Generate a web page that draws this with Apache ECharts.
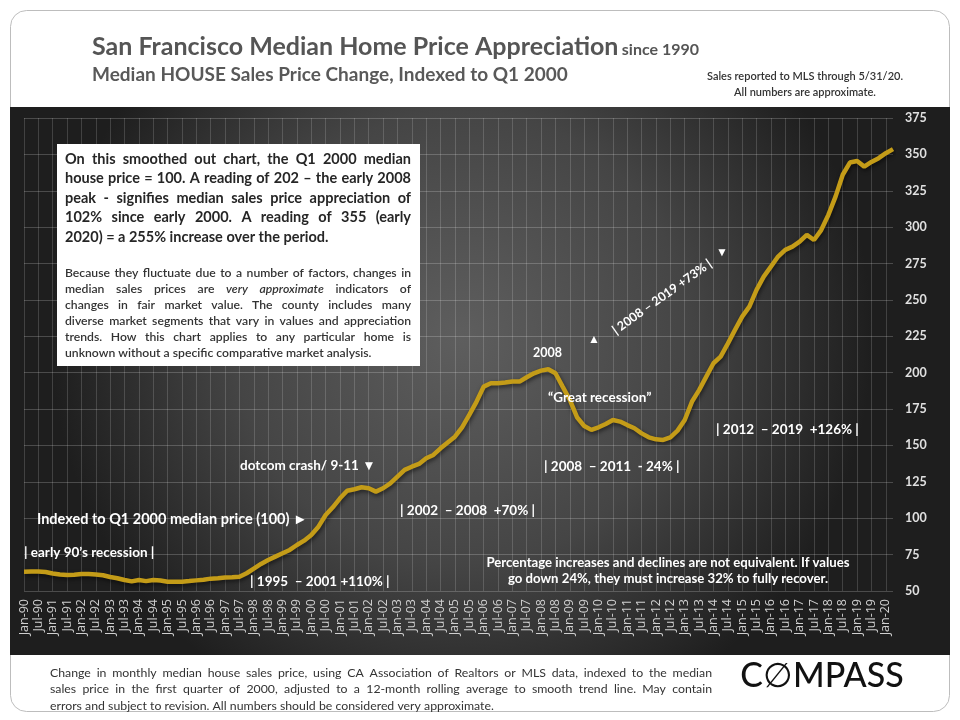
<!DOCTYPE html>
<html>
<head>
<meta charset="utf-8">
<script src="https://cdn.jsdelivr.net/npm/echarts@6/dist/echarts.min.js"></script>
<style>
  html, body { margin: 0; padding: 0; background: #fff; }
  #chart { width: 960px; height: 720px; }
</style>
</head>
<body>
<div id="chart"></div>
<script>
// quarters shown on the category axis (labels every 6 months: Jan / Jul)
const quarterMonths = ['Jan', 'Apr', 'Jul', 'Oct']
const firstYear = 1990
const lastYear = 2020
const lastQuarterCount = 2 // Jan-20, Apr-20

// index value (Q1 2000 = 100), 12-month rolling average
const index1990s = [
  63.3, 63.4, 63.4, 63.0,
  62.0, 61.3, 61.0, 61.2,
  61.6, 61.6, 61.3, 60.8,
  59.6, 58.8, 57.6, 56.6,
  57.5, 56.8, 57.6, 57.2,
  56.4, 56.4, 56.4, 56.8,
  57.3, 57.8, 58.5, 58.8,
  59.3, 59.4, 59.8, 62.2,
  65.4, 68.6, 71.3, 73.6,
  75.9, 78.2, 81.6, 84.6
]
const index2000s = [
  88.5, 94.2, 102.2, 107.5,
  113.7, 118.9, 119.9, 121.3,
  120.6, 118.3, 120.6, 124.0,
  128.6, 133.2, 135.4, 137.3,
  141.2, 143.5, 148.0, 152.0,
  156.0, 162.5, 171.0, 180.0,
  190.4, 192.7, 192.7, 193.2,
  193.9, 193.9, 196.9, 199.6,
  201.4, 202.4, 199.6, 190.4,
  181.3, 169.4, 163.4, 160.7
]
const index2010s = [
  162.5, 164.8, 167.5, 166.4,
  164.0, 161.8, 158.3, 155.6,
  154.2, 153.8, 155.6, 160.2,
  167.5, 180.0, 188.0, 197.3,
  206.5, 211.0, 220.0, 229.4,
  238.5, 245.4, 256.9, 266.0,
  272.9, 279.8, 284.4, 286.6,
  290.0, 294.7, 291.2, 298.0,
  308.4, 321.0, 336.0, 344.4,
  345.5, 341.6, 344.8, 347.4
]
const index2020s = [350.8, 353.6]

// y axis ticks
const yMin = 50
const yMax = 375
const yStep = 25

const categories = []
for (let y = firstYear; y <= lastYear; y++) {
  const n = y === lastYear ? lastQuarterCount : 4
  for (let q = 0; q < n; q++) {
    categories.push(quarterMonths[q] + '-' + String(y).slice(2))
  }
}
const values = [].concat(index1990s, index2000s, index2010s, index2020s)

const annoFont = "Lato, 'Noto Sans', sans-serif"
const white = '#ffffff'

// box / footer text (justified like the original slide)
const boxLead = [
  'On this smoothed out chart, the Q1 2000 median',
  'house price = 100. A reading of 202 \u2013 the early 2008',
  'peak - signifies median sales price appreciation of',
  '102% since early 2000.  A reading of 355 (early',
  '2020) = a 255% increase over the period.'
]
const boxBody = [
  'Because they fluctuate due to a number of factors, changes in',
  'median sales prices are *very *approximate indicators of',
  'changes in fair market value. The county includes many',
  'diverse market segments that vary in values and appreciation',
  'trends. How this chart applies to any particular home is',
  'unknown without a specific comparative market analysis.'
]
const footerLines = [
  'Change in monthly median house sales price, using CA Association of Realtors or MLS data, indexed to the median',
  'sales price in the first quarter of 2000, adjusted to a 12-month rolling average to smooth trend line.  May contain',
  'errors and subject to revision. All numbers should be considered very approximate.'
]

const measureCtx = document.createElement('canvas').getContext('2d')

// lays words out across the given width; the last line stays ragged
function justify(lines, x, y, width, font, italicFont, lineHeight, fill) {
  const els = []
  lines.forEach(function (line, i) {
    const yy = y + i * lineHeight
    const words = line.split(/\s+/)
    const items = words.map(function (w) {
      const it = w.charAt(0) === '*'
      const txt = it ? w.slice(1) : w
      measureCtx.font = it ? italicFont : font
      return { txt: txt, f: it ? italicFont : font, w: measureCtx.measureText(txt).width }
    })
    measureCtx.font = font
    const space = measureCtx.measureText(' ').width
    let gap = space
    if (i < lines.length - 1 && items.length > 1) {
      const total = items.reduce(function (s, it) { return s + it.w }, 0)
      gap = (width - total) / (items.length - 1)
    }
    let cx = x
    items.forEach(function (it) {
      els.push({
        type: 'text',
        x: cx,
        y: yy,
        z: 101,
        style: { text: it.txt, font: it.f, fill: fill, textVerticalAlign: 'middle' }
      })
      cx += it.w + gap
    })
  })
  return els
}

function note(x, y, text, opts) {
  return Object.assign({
    type: 'text',
    x: x,
    y: y,
    z: 100,
    style: Object.assign({
      text: text,
      fill: white,
      font: 'bold 13.5px ' + annoFont,
      textAlign: 'left',
      textVerticalAlign: 'middle'
    }, (opts && opts.style) || {})
  }, (opts && opts.el) || {})
}

const myChart = echarts.init(document.getElementById('chart'))

const graphics = [
  // page frame
  {
    type: 'rect',
    z: -100,
    shape: { x: 10.5, y: 10.5, width: 939, height: 701, r: 16 },
    style: { fill: '#ffffff', stroke: '#bdbdbd', lineWidth: 1 }
  },
  // dark panel
  {
    type: 'rect',
    z: -90,
    shape: { x: 10, y: 107, width: 940, height: 548 },
    style: {
      fill: new echarts.graphic.RadialGradient(0.48, 0.42, 0.75, [
        { offset: 0, color: '#5e5e5e' },
        { offset: 0.55, color: '#454545' },
        { offset: 1, color: '#1e1e1e' }
      ])
    }
  },
  // titles
  {
    type: 'text',
    x: 92,
    y: 47,
    z: 100,
    style: {
      text: '{t|San Francisco Median Home Price Appreciation} {s|since 1990}',
      textVerticalAlign: 'middle',
      rich: {
        t: { font: 'bold 25px ' + annoFont, fill: '#555555' },
        s: { font: 'bold 16px ' + annoFont, fill: '#555555', padding: [6, 0, 0, 0] }
      }
    }
  },
  {
    type: 'text',
    x: 92,
    y: 75,
    z: 100,
    style: {
      text: 'Median HOUSE Sales Price Change, Indexed to Q1 2000',
      font: 'bold 19px ' + annoFont,
      fill: '#595959',
      textVerticalAlign: 'middle'
    }
  },
  {
    type: 'text',
    x: 805,
    y: 84,
    z: 100,
    style: {
      text: 'Sales reported to MLS through 5/31/20.\nAll numbers are approximate.',
      font: '600 11px ' + annoFont,
      fill: '#333333',
      textAlign: 'center',
      textVerticalAlign: 'middle',
      lineHeight: 16
    }
  },
  // explanatory box
  {
    type: 'rect',
    z: 100,
    shape: { x: 57, y: 144, width: 363, height: 222 },
    style: { fill: '#ffffff' }
  },
  // annotations
  note(24, 553, '| early 90\u2019s recession |'),
  note(37, 519, 'Indexed to Q1 2000 median price (100) \u25BA', { style: { font: 'bold 14.5px ' + annoFont } }),
  note(240, 466, 'dotcom crash/ 9-11 \u25BC'),
  note(250, 582, '| 1995  \u2013 2001 +110% |'),
  note(400, 511, '| 2002  \u2013 2008  +70% |'),
  note(533, 353, '2008', { style: { font: 'bold 12.5px ' + annoFont } }),
  note(548, 398, '\u201CGreat recession\u201D'),
  note(544, 467, '| 2008  \u2013 2011  - 24% |'),
  note(716, 430, '| 2012  \u2013 2019  +126% |'),
  note(594, 339, '\u25B2', { style: { font: 'bold 12px ' + annoFont, textAlign: 'center' } }),
  note(722, 252, '\u25BC', { style: { font: 'bold 12px ' + annoFont, textAlign: 'center' } }),
  note(662, 297, '| 2008 \u2013 2019 +73% |', {
    style: { font: 'bold 12.5px ' + annoFont, textAlign: 'center' },
    el: { rotation: 0.62 }
  }),
  note(668, 571, 'Percentage increases and declines are not equivalent. If values\ngo down 24%, they must increase 32% to fully recover.', {
    style: { textAlign: 'center', lineHeight: 16, font: 'bold 13.2px ' + annoFont }
  }),
  {
    type: 'text',
    x: 822,
    y: 676,
    z: 100,
    style: {
      text: 'C\u2205MPASS',
      font: '500 34px ' + annoFont,
      fill: '#111111',
      textAlign: 'center',
      textVerticalAlign: 'middle'
    }
  }
].concat(
  justify(boxLead, 65, 159, 346, 'bold 14.5px ' + annoFont, 'bold 14.5px ' + annoFont, 19.5, '#262626'),
  justify(boxBody, 65, 273, 346, '600 12.2px ' + annoFont, 'italic 600 12.2px ' + annoFont, 16, '#333333'),
  justify(footerLines, 50, 673, 662, '12.3px ' + annoFont, '12.3px ' + annoFont, 16.5, '#333333')
)

const option = {
  animation: false,
  grid: {
    left: 24,
    right: 67,
    top: 118,
    bottom: 129,
    containLabel: false
  },
  xAxis: {
    type: 'category',
    data: categories,
    boundaryGap: false,
    axisLine: { show: false },
    axisTick: { show: false },
    axisLabel: {
      interval: 1,
      rotate: 90,
      color: '#cfcfcf',
      fontSize: 12.5,
      fontFamily: "'Open Sans', 'Noto Sans', sans-serif",
      margin: 8
    },
    splitLine: {
      show: true,
      interval: 1,
      lineStyle: { color: 'rgba(255,255,255,0.16)', width: 1 }
    }
  },
  yAxis: {
    type: 'value',
    position: 'right',
    min: yMin,
    max: yMax,
    interval: yStep,
    axisLine: { show: false },
    axisTick: { show: false },
    axisLabel: {
      color: '#e0e0e0',
      fontSize: 12.5,
      fontWeight: 'bold',
      fontFamily: annoFont,
      margin: 12
    },
    splitLine: {
      lineStyle: { color: 'rgba(255,255,255,0.2)', width: 1 }
    }
  },
  series: [{
    name: 'index',
    type: 'line',
    data: values,
    showSymbol: false,
    smooth: false,
    lineStyle: {
      color: '#c49c18',
      width: 4.5,
      shadowColor: 'rgba(0,0,0,0.55)',
      shadowBlur: 4,
      shadowOffsetX: 1,
      shadowOffsetY: 2
    },
    z: 5
  }],
  graphic: graphics
}

myChart.setOption(option)
window.addEventListener('resize', function () {
  myChart.resize()
})
</script>
</body>
</html>
